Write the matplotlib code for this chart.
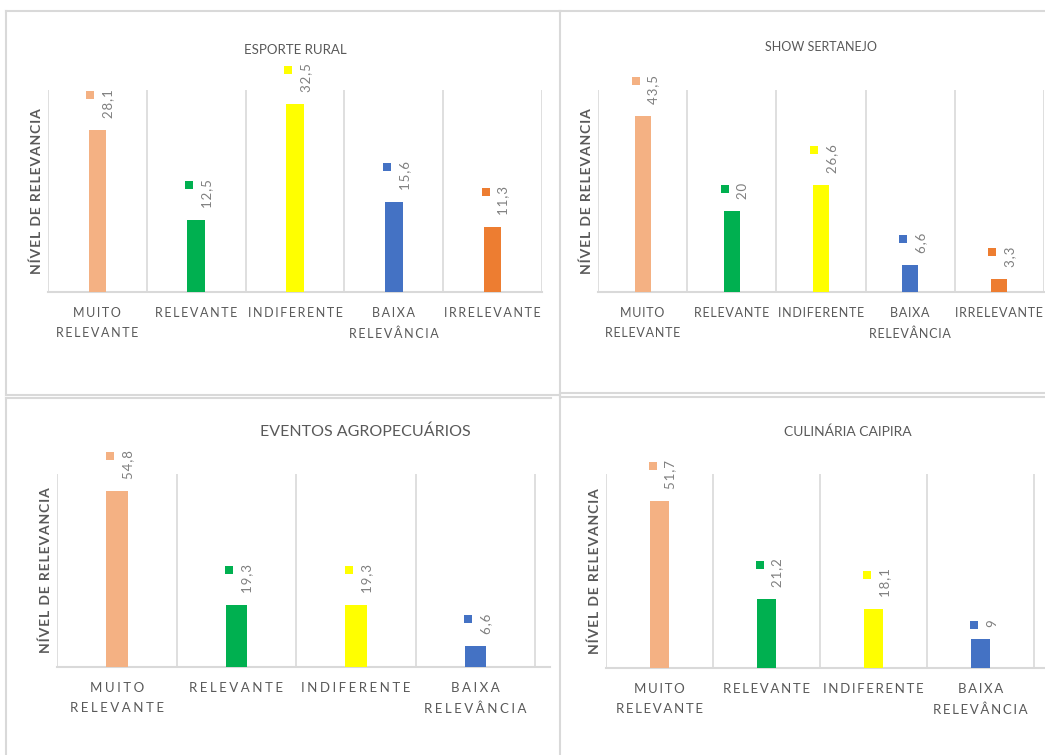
import matplotlib
matplotlib.use("Agg")
import matplotlib.pyplot as plt
from matplotlib.lines import Line2D
from matplotlib.transforms import offset_copy

# dados
categorias5 = ["MUITO\nRELEVANTE", "RELEVANTE", "INDIFERENTE", "BAIXA\nRELEVÂNCIA", "IRRELEVANTE"]
categorias4 = categorias5[:4]
esporte_rural = [28.1, 12.5, 32.5, 15.6, 11.3]
show_sertanejo = [43.5, 20, 26.6, 6.6, 3.3]
eventos_agro = [54.8, 19.3, 19.3, 6.6]
culinaria = [51.7, 21.2, 18.1, 9]
cores = ["#F4B183", "#00B050", "#FFFF00", "#4472C4", "#ED7D31"]

W, H = 1045, 755
FONTE = ["Lato", "DejaVu Sans"]
CINZA = "#595959"
GRADE = "#D9D9D9"

fig = plt.figure(figsize=(W / 100, H / 100), dpi=100)
fig.patch.set_facecolor("white")
renderer = fig.canvas.get_renderer()


def px_axes(left, right, top, bottom):
    return fig.add_axes([left / W, 1 - bottom / H, (right - left) / W, (bottom - top) / H])


def espacar(txt, gap):
    return "\n".join(gap.join(linha) for linha in txt.split("\n"))


def linha_fig(x0, y0, x1, y1):
    fig.add_artist(Line2D([x0 / W, x1 / W], [1 - y0 / H, 1 - y1 / H], transform=fig.transFigure,
                          color=GRADE, lw=1.5))


def painel(caixa, titulo, tit_x, tit_y, tit_fs, cats, valores, ymax, xmax, gap, fs_tick):
    ax = px_axes(*caixa)
    n = len(valores)
    x = list(range(n))
    ax.bar(x, valores, width=0.18, color=cores[:n], zorder=3)
    ax.set_xlim(-0.5, xmax)
    ax.set_ylim(0, ymax)
    ax.vlines([i - 0.5 for i in range(n + 1)], 0, ymax, color=GRADE, lw=1.2, zorder=1)
    for s in ["top", "right", "left"]:
        ax.spines[s].set_visible(False)
    ax.spines["bottom"].set_color(GRADE)
    ax.spines["bottom"].set_linewidth(1.5)
    ax.set_yticks([])
    ax.set_xticks(x)
    ax.set_xticklabels([espacar(c, gap) for c in cats], family=FONTE, fontsize=fs_tick,
                       color=CINZA, linespacing=1.8)
    ax.tick_params(axis="x", length=0, pad=11)
    ax.patch.set_alpha(0)

    # valor rotacionado + quadradinho da legenda alinhado ao topo do texto
    for xi, v, c in zip(x, valores, cores):
        rotulo = "\u200a".join(f"{v:g}".replace(".", ","))
        t = ax.annotate(rotulo, (xi, v), xytext=(11, 12),
                        textcoords="offset pixels", rotation=90, ha="center", va="bottom",
                        family=FONTE, fontsize=9.5, color="#7F7F7F")
        alt = t.get_window_extent(renderer).height
        trans = offset_copy(ax.transData, fig=fig, x=-7, y=12 + alt - 6, units="dots")
        ax.plot([xi], [v], "s", color=c, ms=5.5, mew=0, transform=trans, clip_on=False)

    ax.annotate(espacar("NÍVEL DE RELEVANCIA", "\u200a"), (0, 0.5), xycoords="axes fraction",
                xytext=(-11, 0), textcoords="offset pixels", rotation=90, ha="center",
                va="center", family=FONTE, fontsize=10, fontweight="bold", color=CINZA)
    fig.text(tit_x / W, 1 - tit_y / H, titulo, ha="center", va="center",
             family=FONTE, fontsize=tit_fs, color=CINZA)
    return ax


# molduras dos quadros
linha_fig(6, 11, 560, 11)
linha_fig(6, 11, 6, 395)
linha_fig(6, 395, 560, 395)
linha_fig(560, 11, 1050, 11)
linha_fig(560, 11, 560, 760)
linha_fig(560, 393, 1050, 393)
linha_fig(6, 398, 551, 398)
linha_fig(6, 398, 6, 760)
linha_fig(560, 397, 1050, 397)

painel((48, 542, 90, 292), "ESPORTE RURAL", 295, 50, 9.5, categorias5, esporte_rural, 35, 4.5,
       "\u2009", 9)
painel((598, 1044, 90, 292), "SHOW SERTANEJO", 821, 47, 9, categorias5, show_sertanejo, 50, 4.5,
       "\u200a", 9)
painel((57, 550, 474, 667), "EVENTOS AGROPECUÁRIOS", 365, 432, 11.5, categorias4, eventos_agro, 60,
       3.625, "\u2009\u200a", 9.5)
painel((606, 1045, 474, 668), "CULINÁRIA CAIPIRA", 848, 432, 10, categorias4, culinaria, 60, 3.6,
       "\u2009", 9.5)

plt.savefig("out.png", dpi=100)
